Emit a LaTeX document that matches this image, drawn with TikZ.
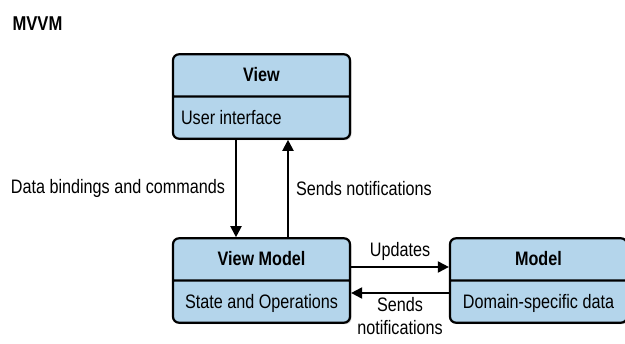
\documentclass[tikz,border=0pt]{standalone}
\usepackage{fontspec}
\setmainfont{Liberation Sans}[FakeStretch=0.83]
\usetikzlibrary{shapes.multipart,arrows.meta,shadows}

\definecolor{layerblue}{RGB}{180,213,235}
\newcommand{\layertext}[2][c]{\makebox[161pt][#1]{\rule[-7.5pt]{0pt}{28pt}#2}}

\tikzset{
  every node/.style={font=\fontsize{19.5}{23}\selectfont},
  layer/.style={rectangle split, rectangle split parts=2, draw, line width=2.2pt,
    rounded corners=6pt, fill=layerblue, inner xsep=8pt, inner ysep=6pt,
    drop shadow={shadow xshift=1.5pt, shadow yshift=-1.5pt, opacity=0.3, fill=black!60}},
  link/.style={line width=2pt, -{Triangle[length=11pt,width=11pt]}},
}

\begin{document}
\begin{tikzpicture}[x=1pt,y=-1pt]
  \useasboundingbox (0,0) rectangle (625,344);

  \node[anchor=west, font=\fontsize{20}{23}\selectfont\bfseries] (title) at (9,24) {MVVM};

  \node[layer] (view) at (261.5,96.5)
    {\layertext{\bfseries View}\nodepart{two}\layertext[l]{User interface}};
  \node[layer] (viewmodel) at (261.5,280.5)
    {\layertext{\bfseries View Model}\nodepart{two}\layertext{State and Operations}};
  \node[layer] (model) at (538.5,280.5)
    {\layertext{\bfseries Model}\nodepart{two}\layertext{Domain-specific data}};

  % view <-> view model
  \draw[link] ([xshift=-25.5pt]view.south) -- ([xshift=-25.5pt]viewmodel.north)
    node[midway, left, inner sep=10pt] (bindings) {Data bindings and commands};
  \draw[link] ([xshift=26.5pt]viewmodel.north) -- ([xshift=26.5pt]view.south)
    node[midway, right, inner sep=7pt] (notifyview) {Sends notifications};

  % view model <-> model
  \draw[link] ([yshift=13.5pt]viewmodel.east) -- ([yshift=13.5pt]model.west)
    node[midway, above, inner sep=5pt] (updates) {Updates};
  \draw[link] ([yshift=-12.5pt]model.west) -- ([yshift=-12.5pt]viewmodel.east)
    node[midway, below, align=center, inner sep=3pt] (notifyvm) {Sends\\notifications};
\end{tikzpicture}
\end{document}
